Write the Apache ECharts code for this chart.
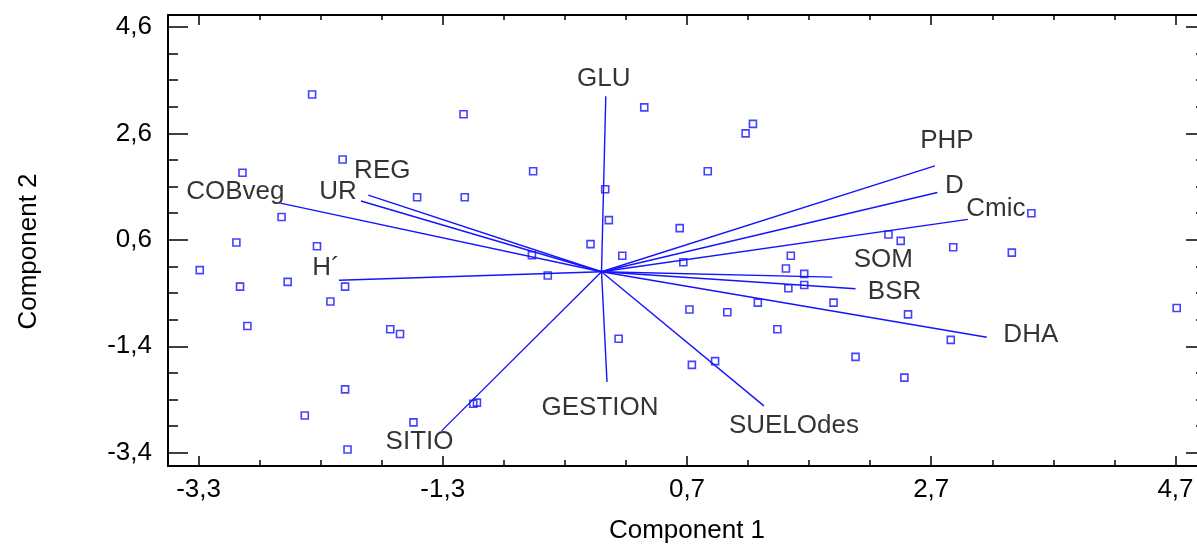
<!DOCTYPE html>
<html><head><meta charset="utf-8">
<script src="https://cdn.jsdelivr.net/npm/echarts@6/dist/echarts.min.js"></script>
<style>html,body{margin:0;padding:0;background:#fff;overflow:hidden;}#c{width:1197px;height:544px;}</style>
</head><body><div id="c"></div>
<script>
// ---- data ----
const xMajorTicks = [-3.3, -1.3, 0.7, 2.7, 4.7];
const xMinorTicks = [-2.8, -2.3, -1.8, -0.8, -0.3, 0.2, 1.2, 1.7, 2.2, 3.2, 3.7, 4.2];
const yMajorTicks = [4.6, 2.6, 0.6, -1.4, -3.4];
const yMinorTicks = [4.1, 3.6, 3.1, 2.1, 1.6, 1.1, 0.1, -0.4, -0.9, -1.9, -2.4, -2.9];

const scoresX = [-2.37,-2.12,-2.94,-1.51,-2.62,-2.99,-2.33,-1.13,-0.56,-1.12,0.03,0.06,0.35,0.87,0.64,-0.09,
  1.18,1.24,3.52,2.35,2.45,2.88,3.36,-3.29,-2.96,-2.57,-2.10,-2.22,-2.90,-1.73,-1.65,-2.10,-2.43,-1.54,-2.08,
  -0.57,0.17,0.67,-0.44,0.72,1.03,0.14,0.74,0.93,-1.05,-1.02,1.55,1.51,1.66,1.53,1.66,1.28,1.90,2.51,4.71,
  1.44,2.86,2.08,2.48];
const scoresY = [3.33,2.11,1.86,1.40,1.03,0.55,0.48,2.96,1.89,1.40,1.55,0.97,3.09,1.89,0.82,0.52,
  2.60,2.78,1.10,0.70,0.58,0.46,0.36,0.03,-0.28,-0.19,-0.28,-0.56,-1.02,-1.08,-1.17,-2.21,-2.70,-2.83,-3.34,
  0.31,0.30,0.18,-0.07,-0.71,-0.76,-1.26,-1.75,-1.68,-2.48,-2.46,0.30,0.06,-0.04,-0.31,-0.25,-0.58,-0.58,-0.80,-0.68,
  -1.08,-1.28,-1.60,-1.99];

const variables = ['GLU','GESTION','SITIO','SUELOdes','DHA','BSR','SOM','Cmic','D','PHP','COBveg','UR','REG','H\u00B4'];
const loadingX = [0.035, 0.045, -1.31, 1.33, 3.155, 2.08, 1.89, 3.00, 2.75, 2.73, -2.63, -1.97, -1.91, -2.15];
const loadingY = [3.30, -2.07, -2.99, -2.52, -1.23, -0.32, -0.10, 0.985, 1.49, 1.99, 1.29, 1.33, 1.44, -0.16];

// ---- layout (label offsets in px, relative to vector tips) ----
const labelOffset = {
  'GLU':[-2,-17], 'GESTION':[-7,26], 'SITIO':[-22,11], 'SUELOdes':[30,20], 'DHA':[44,-2],
  'BSR':[39,3], 'SOM':[51,-17], 'Cmic':[28,-11], 'D':[17,-7], 'PHP':[12,-25],
  'COBveg':[-45,-11], 'UR':[-23,-9], 'REG':[14,-24], 'H\u00B4':[-13,-12]
};

const BLUE = '#1414ff';
const INK = '#000';
const FONT = '"Liberation Sans", Arial, sans-serif';
const FS = 26;
const fmt = v => Number(v).toFixed(1).replace('.', ',');

const chart = echarts.init(document.getElementById('c'), null, {renderer:'canvas'});

function xAxisDef(pos, ticks, len, withLine, withLabel) {
  return {
    type:'value', position:pos, min:-3.55, max:4.95,
    axisLine:{show:withLine, onZero:false, lineStyle:{color:'#000', width:2}},
    axisTick:{show:true, inside:true, length:len, customValues:ticks, lineStyle:{color:'#000', width:1.5}},
    axisLabel: withLabel ? {show:true, customValues:ticks, formatter:fmt, fontSize:FS, color:INK, fontFamily:FONT, margin:11}
                         : {show:false},
    splitLine:{show:false}
  };
}
function yAxisDef(pos, ticks, len, withLine, withLabel) {
  return {
    type:'value', position:pos, min:-3.65, max:4.825,
    axisLine:{show:withLine, onZero:false, lineStyle:{color:'#000', width:2}},
    axisTick:{show:true, inside:true, length:len, customValues:ticks, lineStyle:{color:'#000', width:1.5}},
    axisLabel: withLabel ? {show:true, customValues:ticks, formatter:fmt, fontSize:FS, color:INK, fontFamily:FONT, margin:16}
                         : {show:false},
    splitLine:{show:false}
  };
}

const xAxes = [
  Object.assign(xAxisDef('bottom', xMajorTicks, 10, true, true),
    {name:'Component 1', nameLocation:'middle', nameGap:52, nameTextStyle:{fontSize:FS, color:INK, fontFamily:FONT}}),
  xAxisDef('bottom', xMinorTicks, 6, false, false),
  xAxisDef('top', xMajorTicks, 10, true, false),
  xAxisDef('top', xMinorTicks, 5, false, false)
];
const yAxes = [
  Object.assign(yAxisDef('left', yMajorTicks, 20, true, true),
    {name:'Component 2', nameLocation:'middle', nameGap:126, nameTextStyle:{fontSize:FS, color:INK, fontFamily:FONT, padding:[0,22,0,0]}}),
  yAxisDef('left', yMinorTicks, 10, false, false),
  yAxisDef('right', yMajorTicks, 20, true, false),
  yAxisDef('right', yMinorTicks, 10, false, false)
];

const series = [];
variables.forEach((v, i) => {
  series.push({
    type:'line', name:v, xAxisIndex:0, yAxisIndex:0,
    data:[[0,0],[loadingX[i], loadingY[i]]],
    symbol:'none', silent:true,
    lineStyle:{color:BLUE, width:1.4}
  });
});
series.push({
  type:'scatter', name:'scores', xAxisIndex:0, yAxisIndex:0,
  data: scoresX.map((x,i)=>[x, scoresY[i]]),
  symbol:'rect', symbolSize:7,
  itemStyle:{color:'rgba(255,255,255,0)', borderColor:BLUE, borderWidth:1.6}
});
series.push({
  type:'scatter', name:'labels', xAxisIndex:0, yAxisIndex:0,
  symbolSize:0,
  data: variables.map((v,i)=>({
    value:[loadingX[i], loadingY[i]], name:v,
    label:{offset:labelOffset[v]}
  })),
  label:{show:true, position:'inside', formatter:p=>p.name, fontSize:FS, color:INK, fontFamily:FONT}
});

chart.setOption({
  animation:false,
  backgroundColor:'#fff',
  grid:{left:168, right:-9, top:15, bottom:78, containLabel:false, outerBoundsMode:'none'},
  xAxis:xAxes, yAxis:yAxes,
  series:series
});
</script></body></html>
